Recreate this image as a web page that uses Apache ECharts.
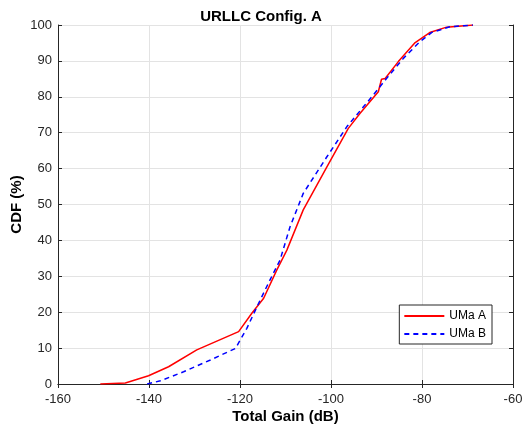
<!DOCTYPE html>
<html><head><meta charset="utf-8">
<script src="https://cdn.jsdelivr.net/npm/echarts@6/dist/echarts.min.js"></script>
<style>html,body{margin:0;padding:0;background:#fff}#c{width:522px;height:431px}</style>
</head><body><div id="c"></div>
<script>
const umaA_x = [-150.7,-145.2,-140.1,-135.7,-129.5,-120.3,-117.4,-114.8,-111.9,-109.7,-106.1,-100.9,-96.2,-93.6,-89.6,-88.9,-88.1,-85.2,-81.5,-78.3,-74.6,-68.8];
const umaA_y = [0,0.3,2.3,4.8,9.5,14.6,19.7,23.9,31.8,37.3,48.5,60.5,71.2,75.4,81.4,84.9,85.1,89.8,95.1,97.9,99.4,100];
const umaB_x = [-140.4,-137.5,-132.4,-126.5,-121.0,-118.5,-115.9,-113.4,-111.2,-109.0,-106.1,-100.9,-96.5,-90.7,-87.8,-84.1,-80.5,-77.9,-73.9,-68.8];
const umaB_y = [0,0.9,3.4,6.7,9.9,15.5,22.5,29.0,34.5,43.8,53.1,63.3,71.7,80.5,85.1,90.7,95.3,97.9,99.5,100];
const xTicks = [-160,-140,-120,-100,-80,-60];
const yTicks = [0,10,20,30,40,50,60,70,80,90,100];
const seriesNames = ['UMa A','UMa B'];

const font = 'Helvetica, Arial, "Liberation Sans", sans-serif';
const axisCol = '#262626';
const chart = echarts.init(document.getElementById('c'));
const zip = (a,b) => a.map((v,i)=>[v,b[i]]);
chart.setOption({
  animation:false,
  title:{text:'URLLC Config. A',left:'center',top:4,textStyle:{fontFamily:font,fontSize:15,fontWeight:'bold',color:'#000'}},
  grid:{left:58,right:9,top:25,bottom:47,containLabel:false,outerBoundsMode:'none'},
  legend:{
    data:seriesNames, orient:'vertical', right:30, bottom:87,
    backgroundColor:'#fff', borderColor:'#262626', borderWidth:1, borderRadius:0,
    padding:[5,6,4,4], itemGap:6, itemWidth:40, itemHeight:10,
    itemStyle:{opacity:0},
    textStyle:{fontFamily:font,fontSize:12,color:'#000'}
  },
  xAxis:[{
    type:'value', min:xTicks[0], max:xTicks[xTicks.length-1], interval:20,
    name:'Total Gain (dB)', nameLocation:'middle', nameGap:25, nameMoveOverlap:false,
    nameTextStyle:{fontFamily:font,fontSize:15,fontWeight:'bold',color:'#000'},
    axisLine:{show:true,lineStyle:{color:axisCol,width:1}},
    axisTick:{show:true,inside:true,length:4,lineStyle:{color:axisCol}},
    axisLabel:{fontFamily:font,fontSize:13,color:axisCol,margin:9},
    splitLine:{show:true,lineStyle:{color:'#e3e3e3',width:1}}
  },{
    type:'value', position:'top', min:xTicks[0], max:xTicks[xTicks.length-1], interval:20,
    axisLine:{show:true,lineStyle:{color:axisCol,width:1}},
    axisTick:{show:true,inside:true,length:4,lineStyle:{color:axisCol}},
    axisLabel:{show:false}, splitLine:{show:false}
  }],
  yAxis:[{
    type:'value', min:0, max:100, interval:10,
    name:'CDF (%)', nameLocation:'middle', nameGap:34, nameMoveOverlap:false,
    nameTextStyle:{fontFamily:font,fontSize:15,fontWeight:'bold',color:'#000'},
    axisLine:{show:true,lineStyle:{color:axisCol,width:1}},
    axisTick:{show:true,inside:true,length:4,lineStyle:{color:axisCol}},
    axisLabel:{fontFamily:font,fontSize:13,color:axisCol,margin:6},
    splitLine:{show:true,lineStyle:{color:'#e3e3e3',width:1}}
  },{
    type:'value', position:'right', min:0, max:100, interval:10,
    axisLine:{show:true,lineStyle:{color:axisCol,width:1}},
    axisTick:{show:true,inside:true,length:4,lineStyle:{color:axisCol}},
    axisLabel:{show:false}, splitLine:{show:false}
  }],
  series:[
    {name:seriesNames[0],type:'line',data:zip(umaA_x,umaA_y),showSymbol:false,symbol:'none',
     lineStyle:{color:'#ff0000',width:1.5},itemStyle:{color:'#ff0000'}},
    {name:seriesNames[1],type:'line',data:zip(umaB_x,umaB_y),showSymbol:false,symbol:'none',
     lineStyle:{color:'#0000ff',width:1.5,type:[5,4]},itemStyle:{color:'#0000ff'}}
  ]
});
</script></body></html>
